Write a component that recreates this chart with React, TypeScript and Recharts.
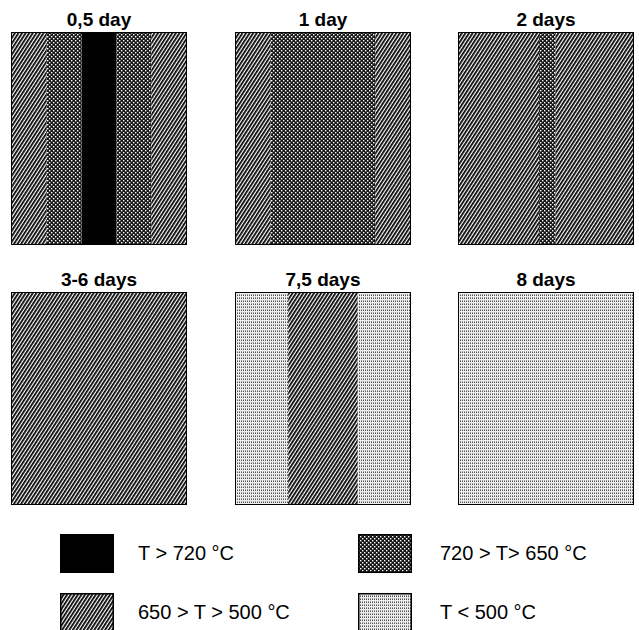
import React from "react";
import { BarChart, Bar, XAxis, YAxis, ReferenceArea } from "recharts";

const panelTitles = ["0,5 day", "1 day", "2 days", "3-6 days", "7,5 days", "8 days"];
const panelZones = [
  ["mid", "high", "max", "high", "mid"],
  ["mid", "high", "mid"],
  ["mid", "high", "mid"],
  ["mid"],
  ["low", "mid", "low"],
  ["low"],
];
const panelWidths = [
  [20, 20, 20, 20, 20],
  [20, 60, 20],
  [46, 9.5, 44.5],
  [100],
  [30, 40, 30],
  [100],
];

const zoneKeys = ["max", "high", "mid", "low"];
const zoneLabels = ["T > 720 °C", "720 > T> 650 °C", "650 > T > 500 °C", "T < 500 °C"];

const FONT = '"Liberation Sans", Arial, Helvetica, sans-serif';

const panelLeft = [11, 235, 458];
const panelTop = [32, 292];
const PANEL_W = 176;
const PANEL_H = 213;

function Patterns({ prefix }: { prefix: string }) {
  return (
    <defs>
      <pattern id={`${prefix}-high`} width={4} height={4} patternUnits="userSpaceOnUse">
        <rect width={4} height={4} fill="#181818" />
        <rect x={0} y={0} width={1.4} height={1.4} fill="#fff" />
        <rect x={2} y={2} width={1.4} height={1.4} fill="#fff" />
      </pattern>
      <pattern
        id={`${prefix}-mid`}
        width={3}
        height={4}
        patternUnits="userSpaceOnUse"
        patternTransform="rotate(33)"
      >
        <rect width={3} height={4} fill="#fff" />
        <rect x={0} y={0} width={1.75} height={4} fill="#000" />
      </pattern>
      <pattern id={`${prefix}-low`} width={2} height={3} patternUnits="userSpaceOnUse">
        <rect width={2} height={3} fill="#eeeeee" />
        <rect x={0} y={0} width={1} height={1} fill="#555" />
        <rect x={0} y={2} width={1} height={1} fill="#999" />
      </pattern>
    </defs>
  );
}

function zoneFill(prefix: string, zone: string) {
  if (zone === "max") return "#000";
  return `url(#${prefix}-${zone})`;
}

function Panel({ index }: { index: number }) {
  const prefix = `p${index}`;
  const zones = panelZones[index];
  const row: Record<string, string | number> = { name: panelTitles[index] };
  panelWidths[index].forEach((w, i) => {
    row[`b${i}`] = w;
  });
  const left = panelLeft[index % 3];
  const top = panelTop[Math.floor(index / 3)];

  return (
    <div style={{ position: "absolute", left, top: top - 26, width: PANEL_W }}>
      <div
        style={{
          fontFamily: FONT,
          fontWeight: "bold",
          fontSize: 19,
          textAlign: "center",
          height: 26,
          lineHeight: "27px",
        }}
      >
        {panelTitles[index]}
      </div>
      <BarChart
        width={PANEL_W}
        height={PANEL_H}
        data={[row]}
        layout="vertical"
        margin={{ top: 1, right: 1, bottom: 1, left: 1 }}
        barCategoryGap={0}
      >
        <Patterns prefix={prefix} />
        <XAxis type="number" domain={[0, 100]} hide />
        <YAxis type="category" dataKey="name" hide />
        {zones.map((zone, i) => (
          <Bar
            key={i}
            dataKey={`b${i}`}
            stackId="a"
            fill={zoneFill(prefix, zone)}
            isAnimationActive={false}
          />
        ))}
        <ReferenceArea x1={0} x2={100} fill="none" stroke="#000" strokeWidth={2} />
      </BarChart>
    </div>
  );
}

const legendPos = [
  { x: 60, y: 534, tx: 138 },
  { x: 358, y: 534, tx: 440 },
  { x: 60, y: 593, tx: 138 },
  { x: 358, y: 593, tx: 440 },
];

function Legend() {
  return (
    <>
      {zoneKeys.map((zone, i) => {
        const p = legendPos[i];
        const prefix = `lg${i}`;
        return (
          <React.Fragment key={zone}>
            <svg
              width={54}
              height={39}
              style={{ position: "absolute", left: p.x, top: p.y }}
            >
              <Patterns prefix={prefix} />
              <rect
                x={0.75}
                y={0.75}
                width={52.5}
                height={37.5}
                fill={zoneFill(prefix, zone)}
                stroke="#000"
                strokeWidth={1.5}
              />
            </svg>
            <div
              style={{
                position: "absolute",
                left: p.tx,
                top: p.y + 7,
                fontFamily: FONT,
                fontSize: 20,
                lineHeight: "24px",
                whiteSpace: "nowrap",
              }}
            >
              {zoneLabels[i]}
            </div>
          </React.Fragment>
        );
      })}
    </>
  );
}

export default function App() {
  return (
    <div
      style={{
        position: "absolute",
        left: 0,
        top: 0,
        width: 639,
        height: 630,
        background: "#fff",
        overflow: "hidden",
      }}
    >
      {panelTitles.map((_, i) => (
        <Panel key={i} index={i} />
      ))}
      <Legend />
    </div>
  );
}
